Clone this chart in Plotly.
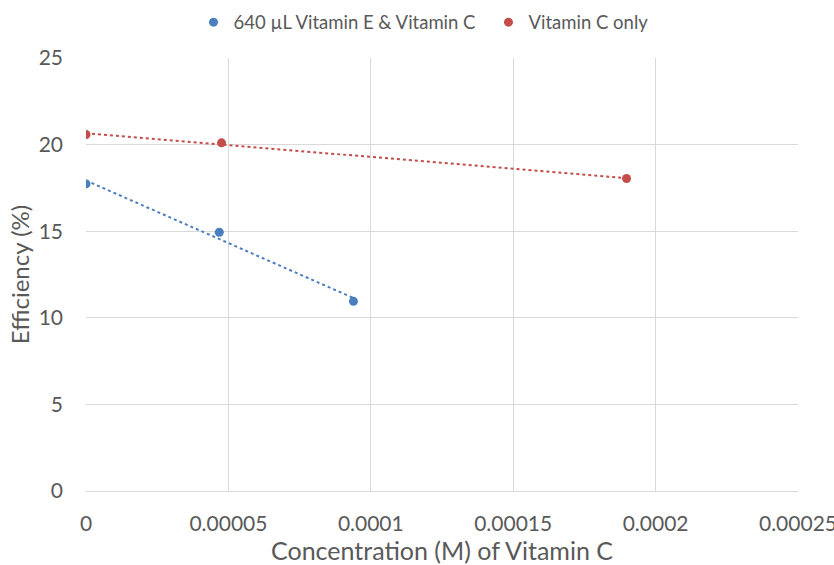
import numpy as np
import plotly.graph_objects as go

blue_name = "640 µL Vitamin E & Vitamin C"
blue_x = [0.0, 0.0000468, 0.0000939]
blue_y = [17.73, 14.94, 10.95]

red_name = "Vitamin C only"
red_x = [0.0, 0.0000476, 0.0001898]
red_y = [20.58, 20.10, 18.04]

x_ticks = [0, 0.00005, 0.0001, 0.00015, 0.0002, 0.00025]
x_tick_text = ["0", "0.00005", "0.0001", "0.00015", "0.0002", "0.00025"]
y_ticks = [0, 5, 10, 15, 20, 25]

BLUE = "#4a7ebf"
RED = "#c44d4a"
TXT = "#595959"
GRID = "#d9d9d9"
FONT = "Lato"

fig = go.Figure()

for xs, ys, col, name in [(blue_x, blue_y, BLUE, blue_name), (red_x, red_y, RED, red_name)]:
    m, b = np.polyfit(xs, ys, 1)
    tx = np.array([min(xs), max(xs)])
    fig.add_trace(go.Scatter(x=tx, y=m * tx + b, mode="lines",
                             line=dict(color=col, width=2, dash="dot"),
                             showlegend=False, hoverinfo="skip"))

for xs, ys, col, name in [(blue_x, blue_y, BLUE, blue_name), (red_x, red_y, RED, red_name)]:
    fig.add_trace(go.Scatter(x=xs, y=ys, mode="markers", name=name,
                             marker=dict(color=col, size=9)))

fig.update_layout(
    width=834, height=565,
    margin=dict(l=86, r=36, t=58, b=74, autoexpand=False),
    paper_bgcolor="white", plot_bgcolor="white",
    font=dict(family=FONT, color=TXT),
    legend=dict(orientation="h", xref="container", x=0.232, xanchor="left",
                yref="container", y=0.96, yanchor="middle",
                font=dict(size=18.5, color=TXT, family=FONT),
                traceorder="normal", itemwidth=30, entrywidth=250),
    showlegend=True,
)

fig.update_xaxes(range=[0, 0.00025], tickvals=x_ticks, ticktext=x_tick_text,
                 showgrid=True, gridcolor=GRID, gridwidth=1,
                 zeroline=False, showline=True, linecolor=GRID, linewidth=1,
                 ticks="", ticklabelstandoff=14, ticklabeloverflow="allow",
                 tickfont=dict(size=21, color=TXT, family=FONT),
                 title=dict(text="Concentration (M) of Vitamin C", standoff=3,
                            font=dict(size=25, color=TXT, family=FONT)))
fig.update_yaxes(range=[0, 25], tickvals=y_ticks,
                 showgrid=True, gridcolor=GRID, gridwidth=1,
                 zeroline=False, showline=False,
                 ticks="", ticklabelstandoff=22,
                 tickfont=dict(size=21, color=TXT, family=FONT),
                 title=dict(text="Efficiency (%)", standoff=2,
                            font=dict(size=24, color=TXT, family=FONT)))

fig.write_html("out.html", config={"displayModeBar": False},
               post_script="document.body.style.margin='0';document.body.style.overflow='hidden';")
